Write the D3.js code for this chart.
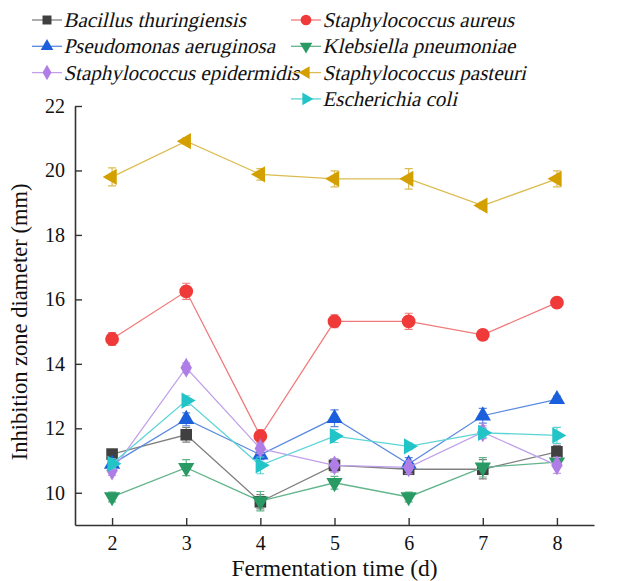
<!DOCTYPE html>
<html>
<head>
<meta charset="utf-8">
<script src="https://cdn.jsdelivr.net/npm/d3@7"></script>
<style>
    body { margin: 0; background: #fff; }
</style>
</head>
<body>
<div class="chart"></div>
<script>
//
// DATA
//
const days = [2, 3, 4, 5, 6, 7, 8]
const yTicks = [10, 12, 14, 16, 18, 20, 22]

const bacillus = [11.2, 11.8, 9.72, 10.85, 10.73, 10.73, 11.27]
const bacillusErr = [0.1, 0.23, 0.22, 0.2, 0.15, 0.3, 0.2]
const aureus = [14.77, 16.25, 11.76, 15.32, 15.32, 14.9, 15.9]
const aureusErr = [0.2, 0.25, 0.2, 0.2, 0.25, 0.15, 0.15]
const aeruginosa = [10.89, 12.28, 11.18, 12.31, 10.89, 12.39, 12.9]
const aeruginosaErr = [0.1, 0.2, 0.15, 0.26, 0.2, 0.23, 0.1]
const pneumoniae = [9.87, 10.78, 9.74, 10.31, 9.87, 10.79, 10.95]
const pneumoniaeErr = [0.15, 0.25, 0.3, 0.2, 0.15, 0.3, 0.1]
const epidermidis = [10.69, 13.88, 11.37, 10.85, 10.79, 11.88, 10.85]
const epidermidisErr = [0.15, 0.15, 0.15, 0.2, 0.2, 0.2, 0.25]
const pasteuri = [19.8, 20.91, 19.88, 19.74, 19.74, 18.91, 19.74]
const pasteuriErr = [0.28, 0.1, 0.18, 0.25, 0.32, 0.1, 0.25]
const coli = [10.9, 12.86, 10.85, 11.76, 11.44, 11.86, 11.78]
const coliErr = [0.15, 0.15, 0.26, 0.2, 0.1, 0.15, 0.25]

const seriesNames = [
    'Bacillus thuringiensis', 'Staphylococcus aureus',
    'Pseudomonas aeruginosa', 'Klebsiella pneumoniae',
    'Staphylococcus epidermidis', 'Staphylococcus pasteuri',
    'Escherichia coli'
]

//
// GLOBALS
//
const width = 618
const height = 581
const margin = { left: 75, right: 24, top: 106, bottom: 56 }
const serif = 'Liberation Serif, Times New Roman, DejaVu Serif, serif'

// styles per series, in legend order
const styles = [
    { color: '#404040', line: '#808080', symbol: d3.symbolSquare, size: 135, rotate: 0 },
    { color: '#f03a3a', line: '#f07a7a', symbol: d3.symbolCircle, size: 150, rotate: 0 },
    { color: '#1c5fdc', line: '#5a8ae0', symbol: d3.symbolTriangle, size: 115, rotate: 0 },
    { color: '#2a9a64', line: '#62b48c', symbol: d3.symbolTriangle, size: 115, rotate: 180 },
    { color: '#ae7ee6', line: '#c0a0ea', symbol: d3.symbolDiamond, size: 115, rotate: 0 },
    { color: '#d4a000', line: '#dcbc50', symbol: d3.symbolTriangle, size: 115, rotate: -90 },
    { color: '#22c4c8', line: '#5cd4d6', symbol: d3.symbolTriangle, size: 115, rotate: 90 }
]

const values = [bacillus, aureus, aeruginosa, pneumoniae, epidermidis, pasteuri, coli]
const errors = [bacillusErr, aureusErr, aeruginosaErr, pneumoniaeErr, epidermidisErr, pasteuriErr, coliErr]

const svg = d3.select('.chart')
    .append('svg')
    .attr('width', width)
    .attr('height', height)
    .style('font-family', serif)

const x = d3.scaleLinear().domain([1.5, 8.5]).range([margin.left, width - margin.right])
const y = d3.scaleLinear().domain([9, 22]).range([height - margin.bottom, margin.top])

// 1) axes, ticks point inwards
const xAxis = svg.append('g')
    .attr('transform', `translate(0,${y(9)})`)
    .call(d3.axisBottom(x).tickValues(days).tickFormat(d3.format('d'))
        .tickSize(-7).tickPadding(11).tickSizeOuter(0))
const yAxis = svg.append('g')
    .attr('transform', `translate(${x(1.5)},0)`)
    .call(d3.axisLeft(y).tickValues(yTicks).tickSize(-7).tickPadding(10).tickSizeOuter(0))

for (const ax of [xAxis, yAxis]) {
    ax.attr('font-family', null).attr('font-size', null)
    ax.select('.domain').attr('stroke', '#333').attr('stroke-width', 1.6)
    ax.selectAll('.tick line').attr('stroke', '#333').attr('stroke-width', 1.4)
    ax.selectAll('.tick text')
        .attr('fill', '#111')
        .style('font-family', serif)
        .style('font-size', '20px')
}

// axis titles
svg.append('text')
    .attr('x', x(5))
    .attr('y', 576)
    .attr('text-anchor', 'middle')
    .style('font-family', serif)
    .style('font-size', '23.5px')
    .attr('fill', '#111')
    .text('Fermentation time (d)')
svg.append('text')
    .attr('transform', `translate(27,${y(15.3)}) rotate(-90)`)
    .attr('text-anchor', 'middle')
    .style('font-family', serif)
    .style('font-size', '22.5px')
    .attr('fill', '#111')
    .text('Inhibition zone diameter (mm)')

// 2) lines, error bars and markers
const line = d3.line()
    .x((d, i) => x(days[i]))
    .y(d => y(d))

const plotSeries = (vals, errs, st) => {
    const g = svg.append('g')
    g.append('path')
        .attr('d', line(vals))
        .attr('fill', 'none')
        .attr('stroke', st.line)
        .attr('stroke-width', 1.3)

    vals.forEach((v, i) => {
        const cx = x(days[i])
        const top = y(v + errs[i])
        const bot = y(v - errs[i])
        g.append('path')
            .attr('d', `M${cx},${top}V${bot}M${cx - 4},${top}H${cx + 4}M${cx - 4},${bot}H${cx + 4}`)
            .attr('fill', 'none')
            .attr('stroke', st.line)
            .attr('stroke-width', 1.2)
    })

    g.selectAll('path.marker')
        .data(vals)
        .join('path')
        .attr('class', 'marker')
        .attr('d', d3.symbol(st.symbol, st.size))
        .attr('transform', (d, i) => `translate(${x(days[i])},${y(d)}) rotate(${st.rotate})`)
        .attr('fill', st.color)
}

values.forEach((vals, i) => plotSeries(vals, errors[i], styles[i]))

// 3) legend in two columns, the last item goes under the right column
// italic is done with a skew so the serif face is kept
const legend = svg.append('g')
seriesNames.forEach((name, i) => {
    const col = i === 6 ? 1 : i % 2
    const row = i === 6 ? 3 : Math.floor(i / 2)
    const lx = col === 0 ? 32 : 291
    const ly = 20 + row * 26.3
    const st = styles[i]
    const item = legend.append('g').attr('transform', `translate(${lx},${ly})`)
    item.append('line')
        .attr('x1', 0).attr('x2', 30)
        .attr('stroke', st.line)
        .attr('stroke-width', 1.3)
    item.append('path')
        .attr('d', d3.symbol(st.symbol, st.size * 0.6))
        .attr('transform', `translate(15,0) rotate(${st.rotate})`)
        .attr('fill', st.color)
    item.append('text')
        .attr('transform', 'translate(33,0) skewX(-13)')
        .attr('dy', '0.33em')
        .style('font-family', serif)
        .style('font-size', '21px')
        .attr('fill', '#111')
        .text(name)
})
</script>
</body>
</html>
